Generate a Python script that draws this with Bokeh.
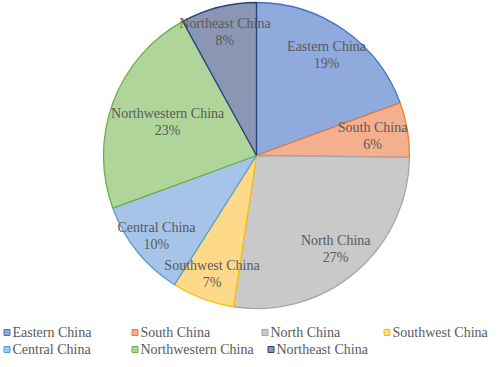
import math
from bokeh.plotting import figure
from bokeh.models import Range1d, ColumnDataSource
from bokeh.core.properties import value
from bokeh.embed import file_html
from bokeh.resources import INLINE

# ---- data ----
regions = ["Eastern China", "South China", "North China", "Southwest China",
           "Central China", "Northwestern China", "Northeast China"]
shares = [19.4, 5.8, 27.2, 6.6, 10.4, 22.6, 8.0]
pct_labels = ["19%", "6%", "27%", "7%", "10%", "23%", "8%"]

# ---- style ----
fills = ["#8FAADC", "#F4B08E", "#C9C9C9", "#FFD98A", "#A6C3E8", "#B0D59B", "#8A96B4"]
lines = ["#4472C4", "#ED7D31", "#A5A5A5", "#FFC000", "#5B9BD5", "#70AD47", "#264478"]
label_r = [0.80, 0.77, 0.80, 0.83, 0.84, 0.62, 0.83]

W, H = 490, 359
p = figure(width=W, height=H, output_backend="svg", toolbar_location=None,
           x_range=Range1d(0, W), y_range=Range1d(0, H), min_border=0)
p.axis.visible = False
p.grid.visible = False
p.outline_line_color = None

cx, cy, R = 256, H - 155, 153
total = sum(shares)
starts, ends, lx, ly = [], [], [], []
cum = 0.0
for s, rf in zip(shares, label_r):
    a0 = math.pi / 2 - 2 * math.pi * cum / total
    cum += s
    a1 = math.pi / 2 - 2 * math.pi * cum / total
    starts.append(a0)
    ends.append(a1)
    mid = (a0 + a1) / 2
    lx.append(cx + rf * R * math.cos(mid))
    ly.append(cy + rf * R * math.sin(mid))

src = ColumnDataSource(dict(start=starts, end=ends, fill=fills, line=lines,
                            lx=lx, ly=ly, name=regions, pct=pct_labels))
p.wedge(x=cx, y=cy, radius=R, start_angle="start", end_angle="end",
        direction="clock", fill_color="fill", line_color="line",
        line_width=1.3, source=src)

font = value("Liberation Serif")
p.text(x="lx", y="ly", text="name", source=src, text_font=font,
       text_font_size="14px", text_color="#595959", text_align="center",
       text_baseline="middle", y_offset=-8.5)
p.text(x="lx", y="ly", text="pct", source=src, text_font=font,
       text_font_size="14px", text_color="#595959", text_align="center",
       text_baseline="middle", y_offset=8.5)

# legend
col_x = [3, 131, 261, 383, 3, 131, 267]
row_y = [H - 332, H - 332, H - 332, H - 332, H - 349, H - 349, H - 349]
sq_x = [x + 3.5 for x in col_x]
tx = [x + 9 for x in col_x]
lsrc = ColumnDataSource(dict(sx=sq_x, tx=tx, y=row_y, fill=fills, line=lines, name=regions))
p.rect(x="sx", y="y", width=6, height=6, fill_color="fill", line_color="line",
       line_width=1, source=lsrc)
p.text(x="tx", y="y", text="name", source=lsrc, text_font=font,
       text_font_size="14px", text_color="#595959", text_align="left",
       text_baseline="middle")

open("out.html", "w").write(file_html(p, INLINE))
